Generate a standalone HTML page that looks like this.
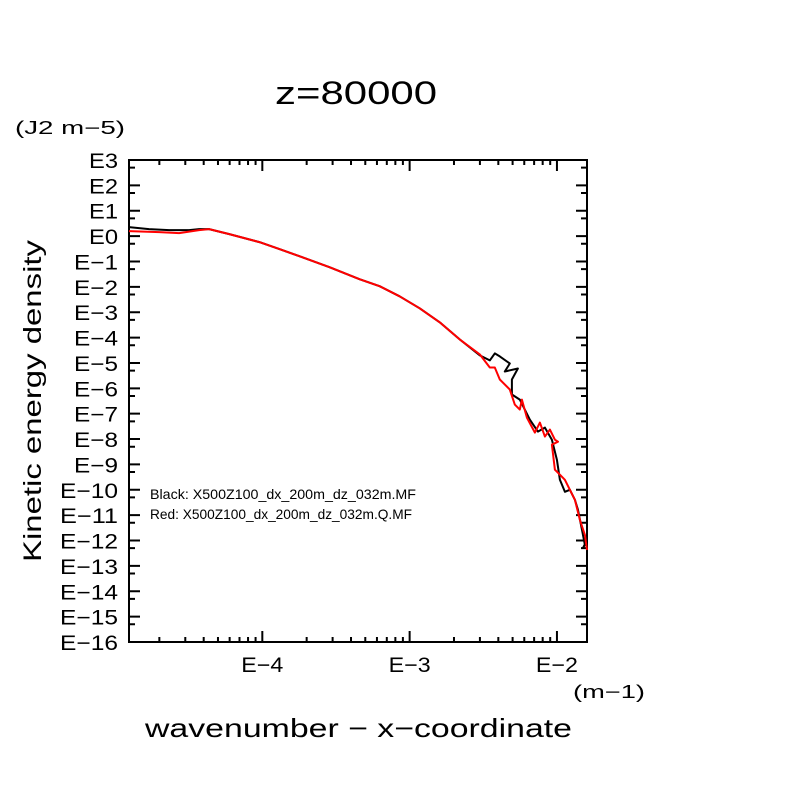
<!DOCTYPE html>
<html><head><meta charset="utf-8"><style>
body{margin:0;background:#fff;}
svg text{font-family:"Liberation Sans",sans-serif;fill:#000;}
</style></head><body>
<svg id="chart" width="804" height="804" xmlns="http://www.w3.org/2000/svg">
<rect width="804" height="804" fill="#fff"/>
<text x="275" y="104" font-size="32" textLength="162" lengthAdjust="spacingAndGlyphs">z=80000</text>
<text x="15" y="134" font-size="18" textLength="110" lengthAdjust="spacingAndGlyphs">(J2 m−5)</text>
<text transform="translate(41,562) rotate(-90)" font-size="25" textLength="322" lengthAdjust="spacingAndGlyphs">Kinetic energy density</text>
<text x="573" y="698" font-size="18" textLength="72" lengthAdjust="spacingAndGlyphs">(m−1)</text>
<text x="145" y="737" font-size="26" textLength="427" lengthAdjust="spacingAndGlyphs">wavenumber − x−coordinate</text>
<g id="axes"></g>
<g id="series"></g>
<text x="150" y="499" font-size="14" textLength="266" lengthAdjust="spacingAndGlyphs">Black: X500Z100_dx_200m_dz_032m.MF</text>
<text x="150" y="519" font-size="14" textLength="262" lengthAdjust="spacingAndGlyphs">Red: X500Z100_dx_200m_dz_032m.Q.MF</text>
</svg>
<script>
const xDecades=[-4,-3,-2];
const yDecades=[3,2,1,0,-1,-2,-3,-4,-5,-6,-7,-8,-9,-10,-11,-12,-13,-14,-15,-16];
const blackLogK=[-4.905,-4.769,-4.633,-4.497,-4.429,-4.361,-4.224,-4.020,-3.884,-3.748,-3.544,-3.340,-3.204,-3.068,-2.932,-2.796,-2.660,-2.524,-2.456,-2.422,-2.388,-2.320,-2.354,-2.265,-2.306,-2.306,-2.252,-2.184,-2.129,-2.082,-2.034,-2.000,-1.980,-1.946,-1.912,-1.878,-1.857,-1.830,-1.810,-1.823,-1.796];
const blackLogE=[0.356,0.277,0.237,0.237,0.277,0.277,0.079,-0.237,-0.514,-0.791,-1.225,-1.700,-1.976,-2.372,-2.846,-3.399,-4.071,-4.704,-4.901,-4.625,-4.743,-5.020,-5.336,-5.217,-5.652,-6.245,-6.443,-7.233,-7.708,-7.549,-8.024,-8.814,-9.605,-10.079,-10.000,-10.395,-10.791,-11.581,-12.174,-12.292,-11.976];
const redLogK=[-4.905,-4.701,-4.565,-4.429,-4.361,-4.224,-4.020,-3.884,-3.748,-3.544,-3.340,-3.204,-3.068,-2.932,-2.796,-2.660,-2.524,-2.456,-2.422,-2.388,-2.320,-2.286,-2.252,-2.238,-2.204,-2.150,-2.116,-2.082,-2.048,-2.014,-1.993,-2.034,-2.014,-1.980,-1.946,-1.912,-1.878,-1.844,-1.810,-1.796];
const redLogE=[0.198,0.158,0.119,0.237,0.277,0.079,-0.237,-0.514,-0.791,-1.225,-1.700,-1.976,-2.372,-2.846,-3.399,-4.071,-4.664,-5.178,-5.178,-5.652,-6.047,-6.640,-6.838,-6.443,-7.154,-7.747,-7.352,-7.905,-7.628,-8.024,-8.103,-8.221,-9.209,-9.407,-9.605,-10.0,-10.395,-11.186,-11.779,-12.372];
const L=129,R=587,T=160,B=642;
const xMin=-4.905,xMax=-1.796,yMin=-16,yMax=3;
const sx=v=>L+(v-xMin)/(xMax-xMin)*(R-L);
const sy=v=>T+(yMax-v)/(yMax-yMin)*(B-T);
const NS="http://www.w3.org/2000/svg";
const axes=document.getElementById('axes');
function mk(tag,attrs,parent){const e=document.createElementNS(NS,tag);for(const k in attrs)e.setAttribute(k,attrs[k]);parent.appendChild(e);return e;}
const frame=mk('rect',{x:L,y:T,width:R-L,height:B-T,fill:'none',stroke:'#000','stroke-width':2},axes);


let d='';
yDecades.forEach(v=>{const y=sy(v);d+=`M${L},${y}h11M${R},${y}h-11`;
 if(v<3){const ym=sy(v+Math.log10(5));d+=`M${L},${ym}h6M${R},${ym}h-6`;}});
for(let dec=-5;dec<=-2;dec++){for(let m=1;m<=9;m++){const v=dec+Math.log10(m);if(v<xMin||v>xMax)continue;
 const x=sx(v);const len=m===1?11:5;d+=`M${x},${T}v${len}M${x},${B}v${-len}`;}}
const ticks=mk('path',{d:d,stroke:'#000','stroke-width':2,fill:'none'},axes);


yDecades.forEach(v=>{const s='E'+(v<0?'−'+(-v):v);const w=v>=0?29:(v>-10?44:58);
 const t=mk('text',{x:118-w,y:sy(v)+8,'font-size':21,textLength:w,lengthAdjust:'spacingAndGlyphs'},axes);t.textContent=s;
 
 });
xDecades.forEach(v=>{const t=mk('text',{x:sx(v)-21,y:672,'font-size':21,textLength:42,lengthAdjust:'spacingAndGlyphs'},axes);t.textContent='E−'+(-v);
 
 });
const ser=document.getElementById('series');
function line(xs,ys,col,name){const p=xs.map((x,i)=>(i?'L':'M')+sx(x).toFixed(1)+','+sy(ys[i]).toFixed(1)).join('');
 const e=mk('path',{d:p,stroke:col,'stroke-width':2,fill:'none','stroke-linejoin':'round'},ser);
 
 }
line(blackLogK,blackLogE,'#000','black-series-line');
line(redLogK,redLogE,'#f00','red-series-line');
</script>
</body></html>
